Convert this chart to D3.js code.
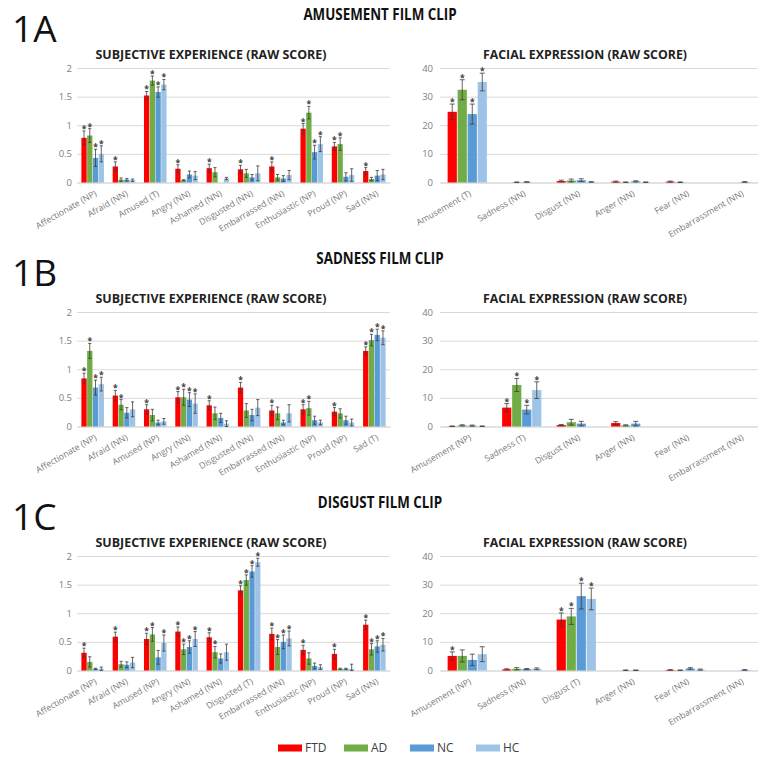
<!DOCTYPE html>
<html>
<head>
<meta charset="utf-8">
<script src="https://cdn.jsdelivr.net/npm/d3@7"></script>
<style>
  body { margin: 0; background: #fff; }
  text { font-family: "Open Sans", sans-serif; }
</style>
</head>
<body>
<div id="chart"></div>
<script>
// groups (legend order) and colours
const groups = ["FTD", "AD", "NC", "HC"];
const groupColors = ["#ff0000", "#70ad47", "#5b9bd5", "#9dc3e6"];

// ---- 1A amusement clip ----
const subjCatsA = ["Affectionate (NP)", "Afraid (NN)", "Amused (T)", "Angry (NN)", "Ashamed (NN)",
    "Disgusted (NN)", "Embarrassed (NN)", "Enthusiastic (NP)", "Proud (NP)", "Sad (NN)"];
const subjMeanA = [
    [0.78, 0.28, 1.52, 0.24, 0.25, 0.23, 0.28, 0.94, 0.63, 0.20],
    [0.82, 0.05, 1.78, 0.04, 0.18, 0.16, 0.09, 1.22, 0.67, 0.06],
    [0.43, 0.05, 1.58, 0.14, 0.00, 0.09, 0.07, 0.53, 0.10, 0.12],
    [0.50, 0.04, 1.71, 0.12, 0.07, 0.16, 0.13, 0.67, 0.13, 0.14]];
const subjErrA = [
    [0.12, 0.08, 0.07, 0.07, 0.07, 0.07, 0.08, 0.09, 0.07, 0.06],
    [0.12, 0.03, 0.08, 0.01, 0.08, 0.07, 0.05, 0.11, 0.11, 0.03],
    [0.15, 0.02, 0.09, 0.06, 0.00, 0.05, 0.05, 0.12, 0.07, 0.09],
    [0.14, 0.02, 0.09, 0.07, 0.02, 0.13, 0.08, 0.13, 0.11, 0.09]];
const subjStarsA = ["1111", "1000", "1111", "1000", "1000", "1000", "1000", "1111", "1100", "1000"];

const faceCatsA = ["Amusement (T)", "Sadness (NN)", "Disgust (NN)", "Anger (NN)", "Fear (NN)", "Embarrassment (NN)"];
const faceMeanA = [
    [24.7, 0.0, 0.5, 0.3, 0.3, 0.0],
    [32.4, 0.1, 0.7, 0.1, 0.1, 0.0],
    [23.9, 0.2, 0.8, 0.4, 0.0, 0.2],
    [35.1, 0.0, 0.2, 0.1, 0.0, 0.0]];
const faceErrA = [
    [2.7, 0.0, 0.3, 0.2, 0.2, 0.0],
    [3.5, 0.1, 0.5, 0.1, 0.1, 0.0],
    [3.5, 0.1, 0.5, 0.2, 0.0, 0.1],
    [3.1, 0.0, 0.1, 0.1, 0.0, 0.0]];
const faceStarsA = ["1111", "0000", "0000", "0000", "0000", "0000"];

// ---- 1B sadness clip ----
const subjCatsB = ["Affectionate (NP)", "Afraid (NN)", "Amused (NP)", "Angry (NN)", "Ashamed (NN)",
    "Disgusted (NN)", "Embarrassed (NN)", "Enthusiastic (NP)", "Proud (NP)", "Sad (T)"];
const subjMeanB = [
    [0.84, 0.54, 0.30, 0.51, 0.37, 0.68, 0.28, 0.30, 0.26, 1.32],
    [1.32, 0.38, 0.20, 0.51, 0.23, 0.28, 0.23, 0.32, 0.23, 1.51],
    [0.68, 0.24, 0.07, 0.47, 0.15, 0.20, 0.07, 0.11, 0.11, 1.60],
    [0.74, 0.30, 0.09, 0.40, 0.05, 0.33, 0.23, 0.07, 0.07, 1.55]];
const subjErrB = [
    [0.09, 0.09, 0.08, 0.10, 0.08, 0.09, 0.09, 0.08, 0.07, 0.07],
    [0.13, 0.09, 0.10, 0.14, 0.11, 0.12, 0.11, 0.12, 0.08, 0.10],
    [0.13, 0.09, 0.04, 0.12, 0.08, 0.10, 0.04, 0.07, 0.07, 0.10],
    [0.12, 0.13, 0.05, 0.17, 0.05, 0.14, 0.15, 0.04, 0.06, 0.12]];
const subjStarsB = ["1111", "1100", "1000", "1111", "1000", "1000", "1000", "1100", "1000", "1111"];

const faceCatsB = ["Amusement (NP)", "Sadness (T)", "Disgust (NN)", "Anger (NN)", "Fear (NN)", "Embarrassment (NN)"];
const faceMeanB = [
    [0.1, 6.6, 0.5, 1.2, 0, 0],
    [0.4, 14.5, 1.5, 0.4, 0, 0],
    [0.3, 5.9, 1.0, 1.0, 0, 0],
    [0.1, 12.7, 0.0, 0.0, 0, 0]];
const faceErrB = [
    [0.1, 1.4, 0.2, 0.5, 0, 0],
    [0.2, 2.3, 1.0, 0.2, 0, 0],
    [0.2, 1.5, 0.8, 0.8, 0, 0],
    [0.1, 2.9, 0.0, 0.0, 0, 0]];
const faceStarsB = ["0000", "1111", "0000", "0000", "0000", "0000"];

// ---- 1C disgust clip ----
const subjCatsC = ["Affectionate (NP)", "Afraid (NN)", "Amused (NP)", "Angry (NN)", "Ashamed (NN)",
    "Disgusted (T)", "Embarrassed (NN)", "Enthusiastic (NP)", "Proud (NP)", "Sad (NN)"];
const subjMeanC = [
    [0.31, 0.59, 0.55, 0.68, 0.58, 1.40, 0.64, 0.36, 0.29, 0.80],
    [0.15, 0.11, 0.63, 0.37, 0.32, 1.58, 0.41, 0.21, 0.03, 0.37],
    [0.03, 0.10, 0.23, 0.41, 0.21, 1.73, 0.50, 0.08, 0.03, 0.42],
    [0.03, 0.14, 0.48, 0.55, 0.32, 1.89, 0.56, 0.06, 0.03, 0.45]];
const subjErrC = [
    [0.08, 0.08, 0.10, 0.08, 0.08, 0.08, 0.10, 0.08, 0.08, 0.08],
    [0.09, 0.05, 0.12, 0.09, 0.10, 0.09, 0.13, 0.10, 0.01, 0.10],
    [0.01, 0.05, 0.12, 0.11, 0.08, 0.10, 0.12, 0.05, 0.01, 0.10],
    [0.03, 0.09, 0.14, 0.13, 0.14, 0.07, 0.13, 0.04, 0.08, 0.11]];
const subjStarsC = ["1000", "1000", "1101", "1111", "1100", "1111", "1111", "1000", "1000", "1111"];

const faceCatsC = ["Amusement (NP)", "Sadness (NN)", "Disgust (T)", "Anger (NN)", "Fear (NN)", "Embarrassment (NN)"];
const faceMeanC = [
    [5.1, 0.4, 17.8, 0.0, 0.2, 0.0],
    [5.1, 0.6, 18.9, 0.1, 0.1, 0.0],
    [3.7, 0.5, 26.0, 0.1, 0.7, 0.2],
    [5.7, 0.6, 25.0, 0.0, 0.3, 0.0]];
const faceErrC = [
    [1.4, 0.2, 2.3, 0.0, 0.1, 0.0],
    [2.1, 0.4, 2.8, 0.1, 0.1, 0.0],
    [2.0, 0.2, 4.5, 0.1, 0.3, 0.1],
    [2.6, 0.3, 3.8, 0.0, 0.2, 0.0]];
const faceStarsC = ["1000", "0000", "1111", "0000", "0000", "0000"];

const rowLabels = ["1A", "1B", "1C"];
const rowTitles = ["AMUSEMENT FILM CLIP", "SADNESS FILM CLIP", "DISGUST FILM CLIP"];
const subjTitle = "SUBJECTIVE EXPERIENCE (RAW SCORE)";
const faceTitle = "FACIAL EXPRESSION (RAW SCORE)";


function GroupedBarChart(svg, cfg) {
    let vis = this;
    vis.svg = svg;
    vis.cfg = cfg;
    vis.initVis();
}

GroupedBarChart.prototype.initVis = function() {
    let vis = this;
    let c = vis.cfg;

    vis.g = vis.svg.append("g");

    vis.x = d3.scaleBand()
        .domain(c.cats)
        .range([c.x0, c.x1])
        .paddingInner(0.28)
        .paddingOuter(0.14);

    vis.xs = d3.scaleBand()
        .domain(groups)
        .range([0, vis.x.bandwidth()])
        .paddingInner(0.08);

    vis.y = d3.scaleLinear()
        .domain([0, c.max])
        .range([c.y1, c.y0]);

    vis.color = d3.scaleOrdinal().domain(groups).range(groupColors);

    // gridlines + y labels
    let yAxis = vis.g.append("g")
        .attr("transform", "translate(" + c.x0 + ",0)")
        .call(d3.axisLeft(vis.y).ticks(4).tickSize(-(c.x1 - c.x0)).tickPadding(c.pad).tickFormat(d3.format("")));
    yAxis.select(".domain").remove();
    yAxis.selectAll("line").attr("stroke", "#d9d9d9");
    yAxis.selectAll("text").attr("fill", "#808080").style("font-size", "9.5px");

    // category labels
    let xAxis = vis.g.append("g")
        .attr("transform", "translate(0," + c.y1 + ")")
        .call(d3.axisBottom(vis.x).tickSize(0).tickPadding(0));
    xAxis.select(".domain").attr("stroke", "#d9d9d9");
    xAxis.selectAll("text")
        .attr("y", 0)
        .attr("dy", "0.35em")
        .attr("text-anchor", "end")
        .attr("transform", "translate(3,10) rotate(-30)")
        .attr("fill", "#7a7a7a")
        .style("font-size", "8.7px");

    vis.updateVis();
}

GroupedBarChart.prototype.updateVis = function() {
    let vis = this;
    let c = vis.cfg;

    let rows = c.cats.map((cat, i) => ({
        cat: cat,
        vals: groups.map((gname, j) => ({
            g: gname, v: c.mean[j][i], e: c.err[j][i], s: c.stars[i][j] === "1"
        }))
    }));

    let cats = vis.g.selectAll(".cat")
        .data(rows)
        .join("g")
        .attr("class", "cat")
        .attr("transform", d => "translate(" + vis.x(d.cat) + ",0)");

    let bw = vis.xs.bandwidth();
    let cap = Math.min(bw * 0.6, 5);

    cats.selectAll("rect")
        .data(d => d.vals)
        .join("rect")
        .attr("x", d => vis.xs(d.g))
        .attr("y", d => vis.y(d.v))
        .attr("width", bw)
        .attr("height", d => vis.y(0) - vis.y(d.v))
        .attr("fill", d => vis.color(d.g));

    // error bars
    cats.selectAll(".err")
        .data(d => d.vals.filter(v => v.e > 0))
        .join("path")
        .attr("class", "err")
        .attr("fill", "none")
        .attr("stroke", "#3c3c3c")
        .attr("stroke-width", 0.8)
        .attr("d", d => {
            let cx = vis.xs(d.g) + bw / 2;
            let top = vis.y(d.v + d.e), bot = vis.y(Math.max(0, d.v - d.e));
            return "M" + cx + "," + bot + "V" + top +
                "M" + (cx - cap / 2) + "," + top + "H" + (cx + cap / 2) +
                "M" + (cx - cap / 2) + "," + bot + "H" + (cx + cap / 2);
        });

    // significance stars
    cats.selectAll(".star")
        .data(d => d.vals.filter(v => v.s))
        .join("text")
        .attr("class", "star")
        .attr("x", d => vis.xs(d.g) + bw / 2)
        .attr("y", d => vis.y(d.v + d.e) + 1)
        .attr("text-anchor", "middle")
        .attr("fill", "#404040")
        .style("font-size", "8.5px")
        .style("font-weight", "bold")
        .text("*");
}


const svg = d3.select("#chart").append("svg")
    .attr("width", 758)
    .attr("height", 757);

const subjMeans = [subjMeanA, subjMeanB, subjMeanC];
const subjErrs = [subjErrA, subjErrB, subjErrC];
const subjStars = [subjStarsA, subjStarsB, subjStarsC];
const subjCats = [subjCatsA, subjCatsB, subjCatsC];
const faceMeans = [faceMeanA, faceMeanB, faceMeanC];
const faceErrs = [faceErrA, faceErrB, faceErrC];
const faceStars = [faceStarsA, faceStarsB, faceStarsC];
const faceCats = [faceCatsA, faceCatsB, faceCatsC];

// squeeze wide Open Sans text toward the narrower original face
function condense(sel, k) {
    sel.each(function() {
        let w = this.getComputedTextLength();
        d3.select(this).attr("textLength", w * k).attr("lengthAdjust", "spacingAndGlyphs");
    });
}

rowLabels.forEach((lab, r) => {
    let top = r * 244;

    svg.append("text")
        .attr("x", 12).attr("y", top + 42)
        .style("font-size", "37px")
        .attr("fill", "#111")
        .text(lab);

    svg.append("text")
        .attr("x", 380).attr("y", top + 20)
        .attr("text-anchor", "middle")
        .style("font-size", "16.5px").style("font-weight", "bold")
        .attr("fill", "#111")
        .text(rowTitles[r])
        .call(condense, 0.81);

    svg.append("text")
        .attr("x", 211).attr("y", top + 59)
        .attr("text-anchor", "middle")
        .style("font-size", "12.5px").style("font-weight", "bold")
        .attr("fill", "#222")
        .attr("textLength", 231).attr("lengthAdjust", "spacingAndGlyphs")
        .text(subjTitle);

    svg.append("text")
        .attr("x", 585).attr("y", top + 59)
        .attr("text-anchor", "middle")
        .style("font-size", "12.5px").style("font-weight", "bold")
        .attr("fill", "#222")
        .attr("textLength", 204).attr("lengthAdjust", "spacingAndGlyphs")
        .text(faceTitle);

    new GroupedBarChart(svg, {
        cats: subjCats[r], mean: subjMeans[r], err: subjErrs[r], stars: subjStars[r],
        max: 2, x0: 77, x1: 390, y0: top + 68, y1: top + 182.5, pad: 5
    });

    new GroupedBarChart(svg, {
        cats: faceCats[r], mean: faceMeans[r], err: faceErrs[r], stars: faceStars[r],
        max: 40, x0: 440, x1: 767, y0: top + 68, y1: top + 182.5, pad: 7
    });
});

// legend
let legend = svg.append("g").selectAll("g")
    .data(groups)
    .join("g")
    .attr("transform", (d, i) => "translate(" + (278 + i * 66) + ",748)");

legend.append("rect")
    .attr("y", -3.5)
    .attr("width", 24)
    .attr("height", 7)
    .attr("fill", (d, i) => groupColors[i]);

legend.append("text")
    .attr("x", 27)
    .attr("dy", "0.36em")
    .attr("fill", "#404040")
    .style("font-size", "12px")
    .text(d => d);
</script>
</body>
</html>
